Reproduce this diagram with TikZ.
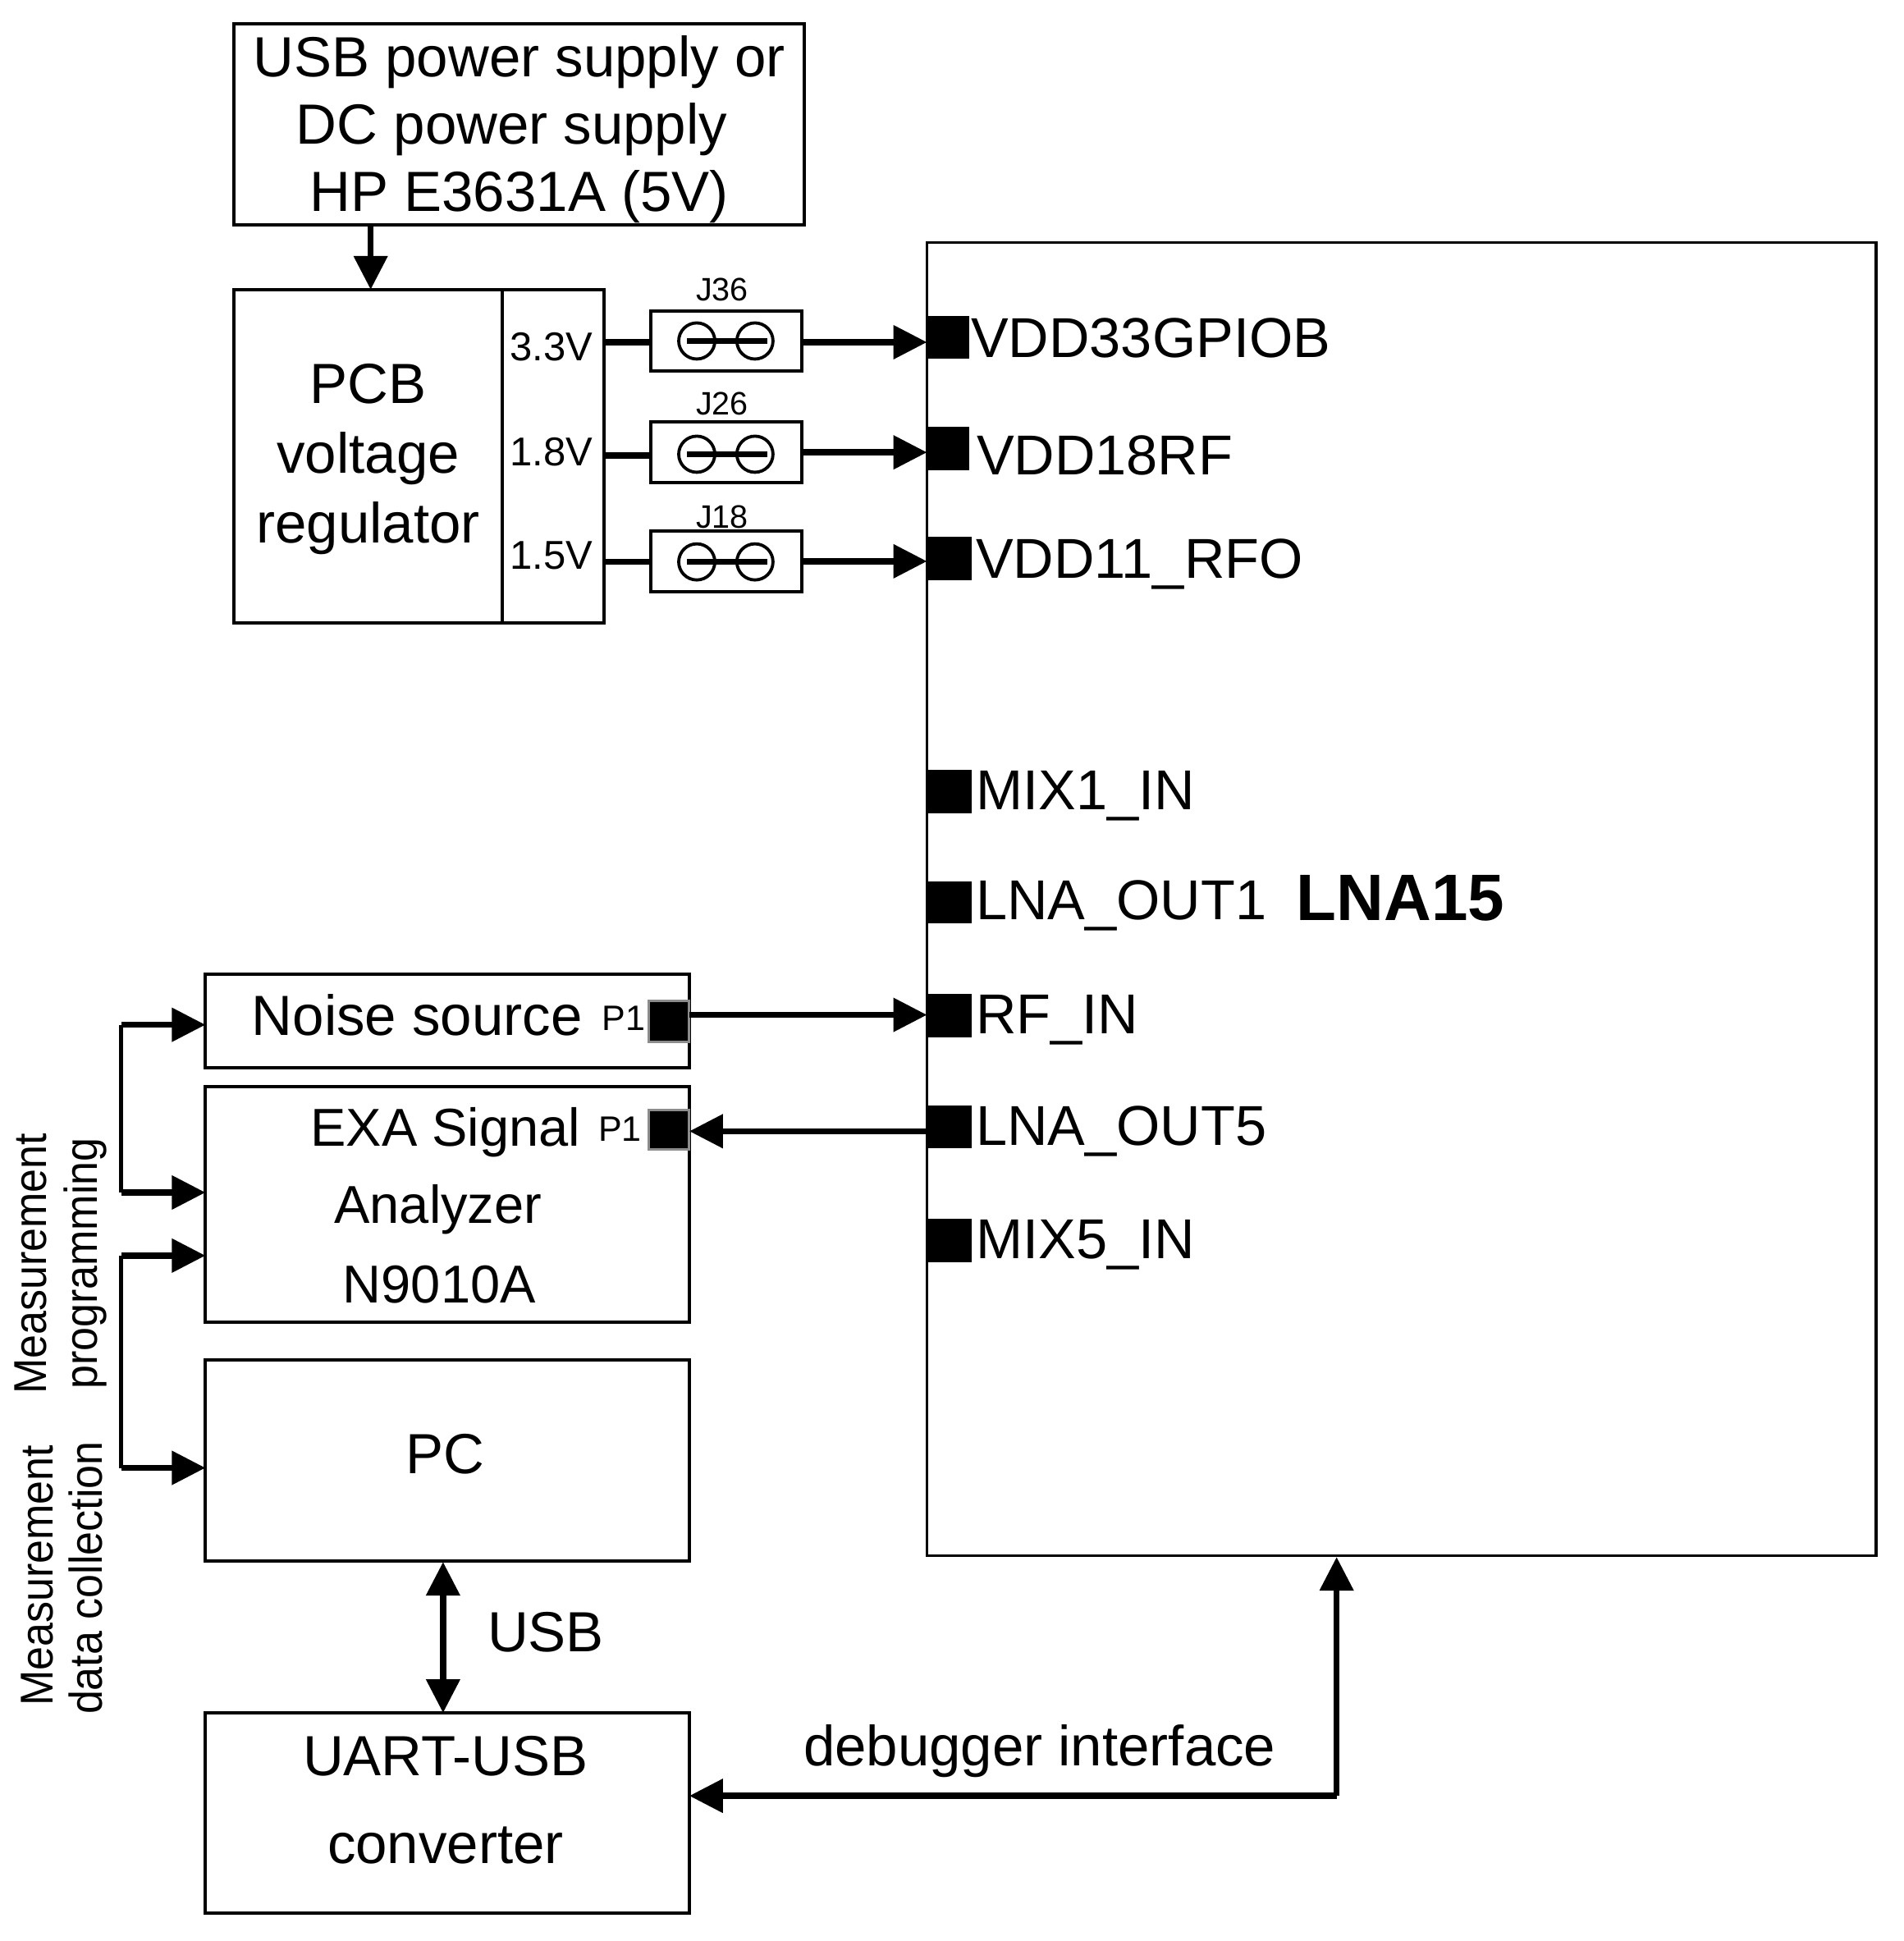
\documentclass[tikz,border=0pt]{standalone}
\usepackage{fontspec}
\setmainfont{Liberation Sans}
\usetikzlibrary{arrows.meta}
\newcommand{\bx}[7][]{\node[#1] (#2) at ({(#3+#5)/2},{(#4+#6)/2}) [minimum width={(#5-#3)*1.508pt},minimum height={(#6-#4)*1.508pt}] {#7};}
\newcommand{\fs}[2]{\fontsize{#1}{#2}\selectfont}
\tikzset{
  frame/.style={draw=black,line width=4pt,inner sep=0pt,outer sep=0pt,align=center,font=\fs{69}{83}},
  pad/.style={fill=black,draw=none,inner sep=0pt,outer sep=0pt},
  padg/.style={fill=black,draw=black!45,line width=3pt,inner sep=0pt,outer sep=0pt},
  padlab/.style={anchor=west,inner sep=0pt,font=\fs{68.5}{72}},
  txt/.style={inner sep=0pt,font=\fs{69}{83}},
  txts/.style={inner sep=0pt,font=\fs{65}{83}},
  vlab/.style={inner sep=0pt,font=\fs{49}{50}},
  jlab/.style={inner sep=0pt,font=\fs{39.5}{40}},
  plab/.style={inner sep=0pt,font=\fs{43}{45}},
  rotlab/.style={inner sep=0pt,rotate=90,font=\fs{52}{54}},
  conn/.style={line width=7.5pt,-{Triangle[length=41pt,width=40pt]}},
  dbl/.style={line width=7.5pt,{Triangle[length=41pt,width=40pt]}-{Triangle[length=41pt,width=40pt]}},
  stub/.style={line width=7.5pt},
  pin/.style={draw=black,line width=3.8pt,circle,inner sep=0pt,outer sep=0pt,minimum size=44pt},
}
\newcommand{\tall}[1]{\scalebox{1}[1.08]{#1}}
\begin{document}
\begin{tikzpicture}[x=1.508pt,y=-1.508pt]
\useasboundingbox (0,0) rectangle (1537.8,1568.3);
% top boxes
\bx[frame]{usb}{189}{19}{650}{182}{}
\node[txt,align=center,font=\fs{69}{82}] (usbt) at (419.5,104.5) {USB power supply or\\DC power supply\rule{18pt}{0pt}\\HP E3631A (5V)};
\bx[frame]{reg}{189}{234}{406}{503}{}
\node[txt,align=center,font=\fs{69}{85}] (regt) at (297.5,371) {PCB\\voltage\\regulator};
\bx[frame]{regv}{406}{234}{488}{503}{}
\draw[conn] (usb.south -| 299.5,0) -- (reg.north -| 299.5,0);
\node[vlab] (v33) at (445.5,280) {3.3V};
\node[vlab] (v18) at (445.5,365) {1.8V};
\node[vlab] (v15) at (445.5,449) {1.5V};
% jumpers
\bx[frame]{j36}{526}{251}{648}{300}{}
\bx[frame]{j26}{526}{341}{648}{390}{}
\bx[frame]{j18}{526}{429}{648}{478}{}
\node[jlab] (l36) at (583.5,234) {J36};
\node[jlab] (l26) at (583.5,326) {J26};
\node[jlab] (l18) at (583.5,418) {J18};
\foreach \n/\y in {a/275.5,b/367,c/454}{
  \node[pin] (\n1) at (563,\y) {};
  \node[pin] (\n2) at (610,\y) {};
  \draw[stub] ([xshift=-12pt]\n1.center) -- ([xshift=15pt]\n2.center);
}
% chip
\bx[frame,line width=3.4pt]{lna}{749}{196}{1516}{1257}{}
\node[inner sep=0pt,anchor=west,font=\bfseries\fs{80}{84}] (lnat) at (1047.5,726) {LNA15};
% pads
\bx[pad]{p33}{749}{255}{783}{290}{}
\bx[pad]{p18}{749}{345}{783}{380}{}
\bx[pad]{p11}{749}{434}{785}{469}{}
\bx[pad]{pm1}{749}{622}{785}{657}{}
\bx[pad]{po1}{749}{712}{785}{746}{}
\bx[pad]{prf}{749}{803}{785}{838}{}
\bx[pad]{po5}{749}{893}{785}{928}{}
\bx[pad]{pm5}{749}{985}{785}{1020}{}
\node[padlab] (t33) at (784.5,273) {VDD33GPIOB};
\node[padlab] (t18) at (789,368) {VDD18RF};
\node[padlab] (t11) at (788.5,456) {VDD11\_RFO};
\node[padlab] (tm1) at (788.5,643) {MIX1\_IN};
\node[padlab] (to1) at (788.5,732) {LNA\_OUT1};
\node[padlab] (trf) at (788.5,824) {RF\_IN};
\node[padlab] (to5) at (788.5,914) {LNA\_OUT5};
\node[padlab] (tm5) at (788.5,1006) {MIX5\_IN};
% supply connectors
\coordinate (r33) at (488,276.5);
\coordinate (r18) at (488,368);
\coordinate (r15) at (488,454);
\draw[stub] (r33) -- (r33 -| j36.west);
\draw[stub] (r18) -- (r18 -| j26.west);
\draw[stub] (r15) -- (r15 -| j18.west);
\draw[conn] (j36.east) ++(0,1) -- (p33.west |- 0,276.5);
\draw[conn] (j26.east) -- (p18.west |- j26.east);
\draw[conn] (j18.east) -- (p11.west |- j18.east);
% instruments
\bx[frame]{noise}{166}{787}{557}{863}{}
\bx[frame]{exa}{166}{878}{557}{1068}{}
\bx[frame]{pc}{166}{1099}{557}{1261}{}
\bx[frame]{uart}{166}{1384}{557}{1546}{}
\node[txt] (tnoise) at (337,820) {Noise source};
\node[txts] (texa1) at (360,915) {EXA Signal};
\node[txts] (texa2) at (354,977) {Analyzer};
\node[txts] (texa3) at (355,1038) {N9010A};
\node[txt] (tpc) at (360,1175) {PC};
\node[txt] (tu1) at (360,1419) {UART-USB};
\node[txt] (tu2) at (360,1491) {converter};
\bx[padg]{pn}{524}{809}{557}{842}{}
\bx[padg]{pe}{524}{897}{557}{929}{}
\node[plab] (ln) at (504,823) {P1};
\node[plab] (le) at (501,912) {P1};
\draw[conn] (pn.east) ++(0,-5.5) -- (prf.west |- 0,820);
\draw[conn] (po5.west |- 0,914) -- (pe.east |- 0,914);
% side buses
\coordinate (b1) at (98,828);
\coordinate (b2) at (98,963.5);
\coordinate (b3) at (98,1014.5);
\coordinate (b4) at (98,1186);
\draw[line width=5pt] (b1) -- (b2);
\draw[line width=5pt] (b3) -- (b4);
\draw[conn] (b1) -- (b1 -| noise.west);
\draw[conn] (b2) -- (b2 -| exa.west);
\draw[conn] (b3) -- (b3 -| exa.west);
\draw[conn] (b4) -- (b4 -| pc.west);
\node[rotlab] (m1) at (25,1021) {\tall{Measurement}};
\node[rotlab] (m2) at (69,1021) {\tall{programming}};
\node[rotlab] (m3) at (30,1273) {\tall{Measurement}};
\node[rotlab] (m4) at (69.5,1275) {\tall{data collection}};
% bottom
\coordinate (pcb) at (358,1262);
\draw[dbl] (pcb) -- (pcb |- uart.north);
\node[txt] (tusb) at (441,1319) {USB};
\coordinate (chipb) at (1080,1258);
\draw[conn] (chipb |- 0,1451) -- (chipb);
\draw[conn] (chipb |- 0,1451) -- (uart.east |- 0,1451);
\node[txt] (tdbg) at (840,1415) {debugger interface};
\end{tikzpicture}
\end{document}
